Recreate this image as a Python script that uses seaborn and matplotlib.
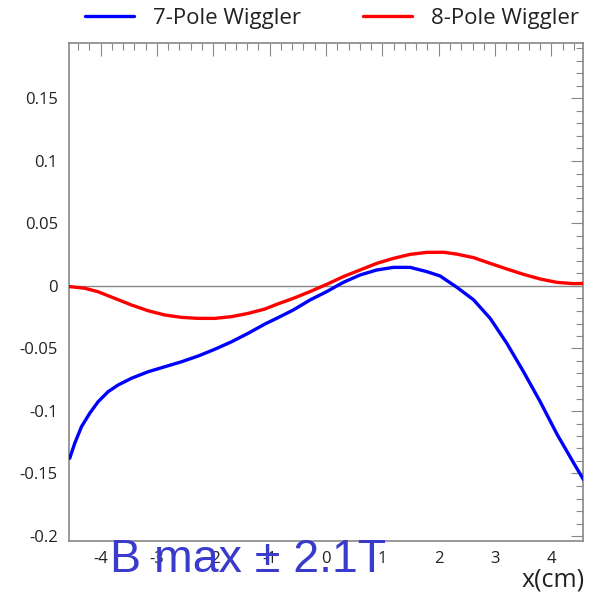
import numpy as np
import pandas as pd
import seaborn as sns
import matplotlib
matplotlib.use("Agg")
import matplotlib.pyplot as plt
from matplotlib.ticker import MultipleLocator, FixedLocator
from matplotlib.lines import Line2D

# Data
x_7pole = [-4.547, -4.458, -4.339, -4.192, -4.044, -3.867, -3.689, -3.451, -3.156,
           -2.860, -2.563, -2.268, -1.972, -1.675, -1.380, -1.083, -0.876, -0.581,
           -0.284, 0.012, 0.307, 0.604, 0.900, 1.196, 1.492, 1.788, 2.025, 2.321,
           2.617, 2.913, 3.209, 3.505, 3.801, 4.098, 4.393, 4.570]
y_7pole = [-0.1378, -0.1258, -0.1126, -0.1018, -0.0926, -0.0846, -0.0792, -0.0738,
           -0.0686, -0.0646, -0.0606, -0.0560, -0.0506, -0.0446, -0.0378, -0.0304,
           -0.0259, -0.0192, -0.0112, -0.0045, 0.0029, 0.0088, 0.0128, 0.0149,
           0.0149, 0.0115, 0.0080, -0.0010, -0.0110, -0.0259, -0.0459, -0.0686,
           -0.0926, -0.1185, -0.1415, -0.1550]

x_8pole = [-4.547, -4.280, -4.044, -3.748, -3.451, -3.156, -2.860, -2.563, -2.268,
           -1.972, -1.675, -1.380, -1.083, -0.876, -0.581, -0.284, 0.012, 0.307,
           0.604, 0.900, 1.196, 1.492, 1.788, 2.084, 2.321, 2.617, 2.913, 3.209,
           3.505, 3.801, 4.098, 4.393, 4.570]
y_8pole = [-0.0005, -0.0018, -0.0046, -0.0099, -0.0152, -0.0198, -0.0232, -0.0251,
           -0.0259, -0.0259, -0.0245, -0.0219, -0.0184, -0.0147, -0.0099, -0.0045,
           0.0013, 0.0075, 0.0128, 0.0181, 0.0221, 0.0253, 0.0269, 0.0270, 0.0255,
           0.0227, 0.0181, 0.0136, 0.0093, 0.0056, 0.0029, 0.0019, 0.0021]

series_names = ["7-Pole Wiggler", "8-Pole Wiggler"]
series_colors = ["#0000ff", "#ff0000"]
x_ticks = [-4, -3, -2, -1, 0, 1, 2, 3, 4]
y_ticks = [-0.2, -0.15, -0.1, -0.05, 0, 0.05, 0.1, 0.15]
y_tick_labels = ["-0.2", "-0.15", "-0.1", "-0.05", "0", "0.05", "0.1", "0.15"]
annotation = "B max \u00b1 2.1T"
x_label = "x(cm)"

df = pd.concat([
    pd.DataFrame({"x": x_7pole, "y": y_7pole, "series": series_names[0]}),
    pd.DataFrame({"x": x_8pole, "y": y_8pole, "series": series_names[1]}),
])

sns.set_style("white")
plt.rcParams["font.family"] = ["Open Sans", "DejaVu Sans"]

fig = plt.figure(figsize=(6.01, 5.95), dpi=100)
ax = fig.add_axes([69/601, 1-541/595, (583-69)/601, (541-43)/595])

ax.axhline(0, color="#888888", lw=1.0, zorder=1)
sns.lineplot(data=df, x="x", y="y", hue="series", palette=series_colors,
             hue_order=series_names, lw=2.4, ax=ax, legend=False, sort=False,
             zorder=3)

ax.set_xlim(-4.56, 4.56)
ax.set_ylim(-0.204, 0.1944)
ax.xaxis.set_major_locator(FixedLocator(x_ticks))
ax.xaxis.set_minor_locator(MultipleLocator(0.2))
ax.yaxis.set_major_locator(FixedLocator(y_ticks))
ax.yaxis.set_minor_locator(MultipleLocator(0.01))
ax.set_xticklabels([str(v) for v in x_ticks])
ax.set_yticklabels(y_tick_labels)
ax.tick_params(which="both", direction="in", top=True, right=True,
               color="#888888", labelsize=12, labelcolor="#222222")
ax.tick_params(which="major", length=9, width=0.8)
ax.tick_params(which="minor", length=5, width=0.8)
ax.tick_params(axis="x", pad=7)
ax.tick_params(axis="y", pad=8)
for s in ax.spines.values():
    s.set_color("#888888")
    s.set_linewidth(1.2)
ax.set_xlabel("")
ax.set_ylabel("")

# Legend drawn above the plot
handles = [Line2D([0], [0], color=c, lw=2.4) for c in series_colors]
fig.legend(handles, series_names, loc="upper center", ncol=2,
           bbox_to_anchor=(0.553, 1.02), frameon=False, fontsize=16,
           handlelength=2.2, columnspacing=2.8, handletextpad=0.86,
           labelcolor="#222222")

fig.text(585/601, 1-580/595, x_label, ha="right", va="center", fontsize=18,
         color="#222222")
fig.text(110/601, 1-560/595, annotation, ha="left", va="center", fontsize=33.5,
         color="#3a3acc", family=["Liberation Sans", "DejaVu Sans"])

fig.savefig("out.png", dpi=100)
